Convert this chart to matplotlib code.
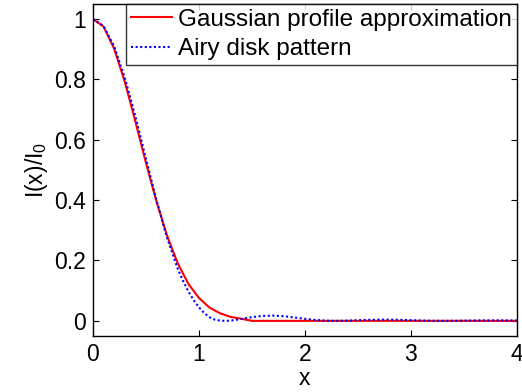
import matplotlib
matplotlib.use("Agg")
import matplotlib.pyplot as plt

plt.rcParams['font.family'] = ['Liberation Sans', 'DejaVu Sans']
plt.rcParams['mathtext.default'] = 'regular'

# Gaussian profile approximation
gauss_x = [0.0, 0.1, 0.2, 0.3, 0.4, 0.5, 0.6, 0.7, 0.8, 0.9, 1.0, 1.1, 1.2, 1.3, 1.4, 1.5, 2.0, 3.0, 4.0]
gauss_y = [1.0, 0.975, 0.902, 0.793, 0.662, 0.524, 0.395, 0.282, 0.191, 0.123, 0.076, 0.044, 0.025, 0.013, 0.007, 0.0, 0.0, 0.0, 0.0]

# Airy disk pattern
airy_x = [0.0, 0.1, 0.2, 0.3, 0.4, 0.5, 0.6, 0.7, 0.8, 0.85, 0.9, 0.95, 1.0, 1.05, 1.1, 1.15,
          1.2, 1.25, 1.3, 1.4, 1.5, 1.6, 1.7, 1.8, 1.9, 2.0, 2.1, 2.2, 2.3, 2.4, 2.5, 2.6,
          2.7, 2.8, 2.9, 3.0, 3.1, 3.2, 3.3, 3.4, 3.5, 3.6, 3.7, 3.8, 3.9, 4.0]
airy_y = [1.0, 0.977, 0.910, 0.806, 0.679, 0.538, 0.400, 0.275, 0.173, 0.133, 0.098, 0.069, 0.045, 0.026, 0.012, 0.004,
          0.0008, 0.0, 0.0006, 0.0062, 0.0122, 0.0163, 0.0174, 0.0154, 0.0113, 0.0067, 0.0029, 0.0006, 0.0, 0.0007, 0.0020, 0.0033,
          0.0040, 0.0040, 0.0033, 0.0022, 0.0011, 0.0003, 0.0, 0.0002, 0.0006, 0.0011, 0.0015, 0.0016, 0.0014, 0.0011]

x_ticks = [0, 1, 2, 3, 4]
x_tick_labels = ['0', '1', '2', '3', '4']
y_ticks = [0, 0.2, 0.4, 0.6, 0.8, 1.0]
y_tick_labels = ['0', '0.2', '0.4', '0.6', '0.8', '1']

fig = plt.figure(figsize=(5.22, 3.92), dpi=100)
ax = fig.add_axes([0.178, 0.143, 0.812, 0.847])

ax.plot(gauss_x, gauss_y, color='#ff0000', lw=1.5, label='Gaussian profile approximation')
ax.plot(airy_x, airy_y, color='#0000ff', lw=1.5, ls=(0, (1, 1.2)), label='Airy disk pattern')

ax.set_xlim(0, 4)
ax.set_ylim(-0.05, 1.05)
ax.set_xticks(x_ticks)
ax.set_xticklabels(x_tick_labels)
ax.set_yticks(y_ticks)
ax.set_yticklabels(y_tick_labels)
ax.tick_params(direction='in', length=4, width=0.8, labelsize=16.5, top=True, right=True)
ax.tick_params(axis='x', pad=5)
ax.tick_params(axis='y', pad=5)
for s in ax.spines.values():
    s.set_linewidth(1.0)

ax.set_xlabel('x', fontsize=16.5, labelpad=1)
ax.set_ylabel('I(x)/I$_0$', fontsize=16.5, labelpad=3)

leg = ax.legend(loc='upper right', fontsize=17.5, frameon=True, fancybox=False,
                edgecolor='black', borderaxespad=0.0, handlelength=1.7,
                handletextpad=0.25, borderpad=0.2, labelspacing=0.3)
leg.get_frame().set_linewidth(1.0)

fig.savefig('out.png', dpi=100)
